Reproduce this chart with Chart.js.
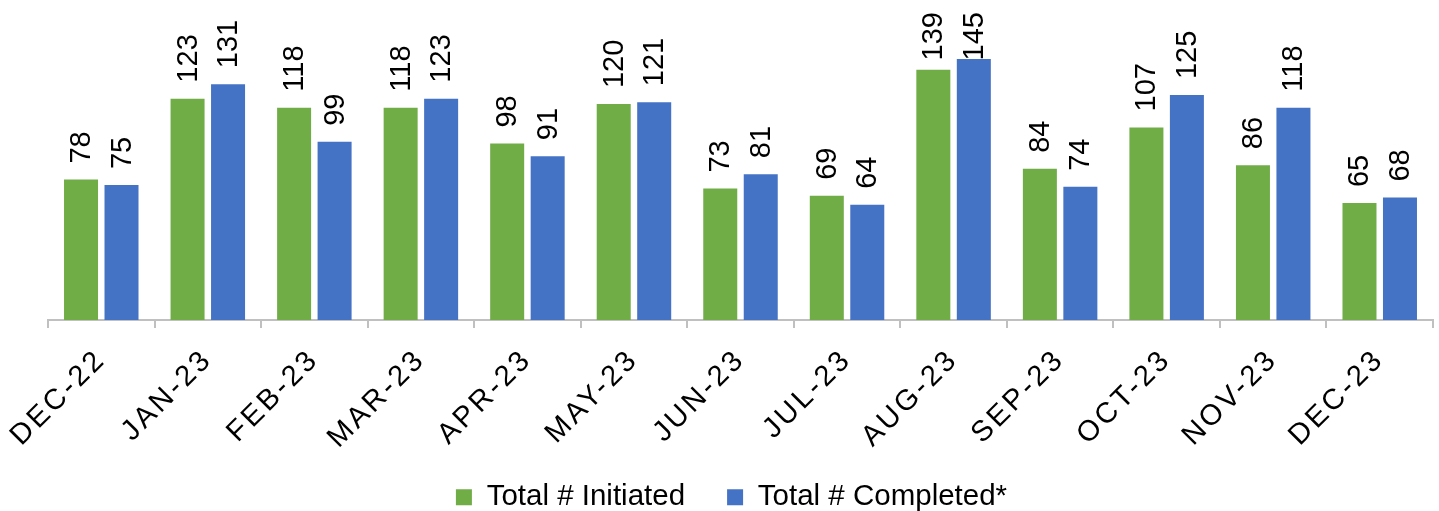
<!DOCTYPE html>
<html>
<head>
<meta charset="utf-8">
<script src="https://cdn.jsdelivr.net/npm/chart.js@4.4.1/dist/chart.umd.min.js"></script>
<style>
html,body{margin:0;padding:0;background:#fff;}
#wrap{width:1439px;height:511px;position:relative;}
</style>
</head>
<body>
<div id="wrap"><canvas id="c"></canvas></div>
<script>
const categories = ["DEC-22","JAN-23","FEB-23","MAR-23","APR-23","MAY-23","JUN-23","JUL-23","AUG-23","SEP-23","OCT-23","NOV-23","DEC-23"];
const initiated = [78,123,118,118,98,120,73,69,139,84,107,86,65];
const completed = [75,131,99,123,91,121,81,64,145,74,125,118,68];
const seriesNames = ["Total # Initiated","Total # Completed*"];

const FONT = "'Liberation Sans', Arial, sans-serif";
const AXIS_Y = 320;

const barLabels = {
  id: 'barLabels',
  afterDatasetsDraw(chart) {
    const ctx = chart.ctx;
    ctx.save();
    ctx.font = "29px " + FONT;
    ctx.fillStyle = "#000";
    ctx.textAlign = "left";
    ctx.textBaseline = "middle";
    chart.data.datasets.forEach((ds, i) => {
      const meta = chart.getDatasetMeta(i);
      meta.data.forEach((bar, j) => {
        const txt = String(ds.data[j]);
        const w = ctx.measureText(txt).width;
        const y = Math.max(bar.y - 16, chart.chartArea.top + 12 + w);
        ctx.save();
        ctx.translate(bar.x + 1, y);
        ctx.rotate(-Math.PI / 2);
        ctx.fillText(txt, 0, 0);
        ctx.restore();
      });
    });
    ctx.restore();
  }
};

const tweaks = {
  id: 'tweaks',
  afterLayout(chart) {
    const lg = chart.legend;
    if (lg) { lg.left -= 9; lg.right -= 9; lg.top += 11; lg.bottom += 11; }
    const sx = chart.scales.x;
    if (sx) {
      sx.bottom = chart.height;
      if (!sx._spaced) {
        const orig = sx.drawLabels;
        sx.drawLabels = function (area) {
          const ctx = this.ctx;
          ctx.save();
          ctx.letterSpacing = '3px';
          orig.call(this, area);
          ctx.restore();
        };
        sx._spaced = true;
      }
    }
  }
};

new Chart(document.getElementById('c'), {
  type: 'bar',
  data: {
    labels: categories,
    datasets: [
      { label: seriesNames[0], data: initiated, backgroundColor: '#70AD47', categoryPercentage: 0.76, barPercentage: 0.84 },
      { label: seriesNames[1], data: completed, backgroundColor: '#4472C4', categoryPercentage: 0.76, barPercentage: 0.84 }
    ]
  },
  options: {
    responsive: true,
    maintainAspectRatio: false,
    animation: false,
    layout: { padding: { left: 48, right: 6, top: 0, bottom: 0 } },
    plugins: {
      legend: {
        position: 'bottom',
        labels: { font: { family: FONT, size: 29.5 }, color: '#000', boxWidth: 16, boxHeight: 16, padding: 42 }
      },
      tooltip: { enabled: false }
    },
    scales: {
      y: { display: false, min: 0, max: 177.8 },
      x: {
        afterFit(scale) {
          const lg = scale.chart.legend;
          scale.height = scale.chart.height - AXIS_Y - (lg ? lg.height : 82);
        },
        grid: { offset: true, drawOnChartArea: false, drawTicks: true, tickLength: 8, color: '#c0c0c0', lineWidth: 2 },
        border: { color: '#c0c0c0', width: 2 },
        ticks: { font: { family: FONT, size: 29, lineHeight: 0.5 }, color: '#000', minRotation: 45, maxRotation: 45, padding: 22, autoSkip: false }
      }
    }
  },
  plugins: [barLabels, tweaks]
});
</script>
</body>
</html>
